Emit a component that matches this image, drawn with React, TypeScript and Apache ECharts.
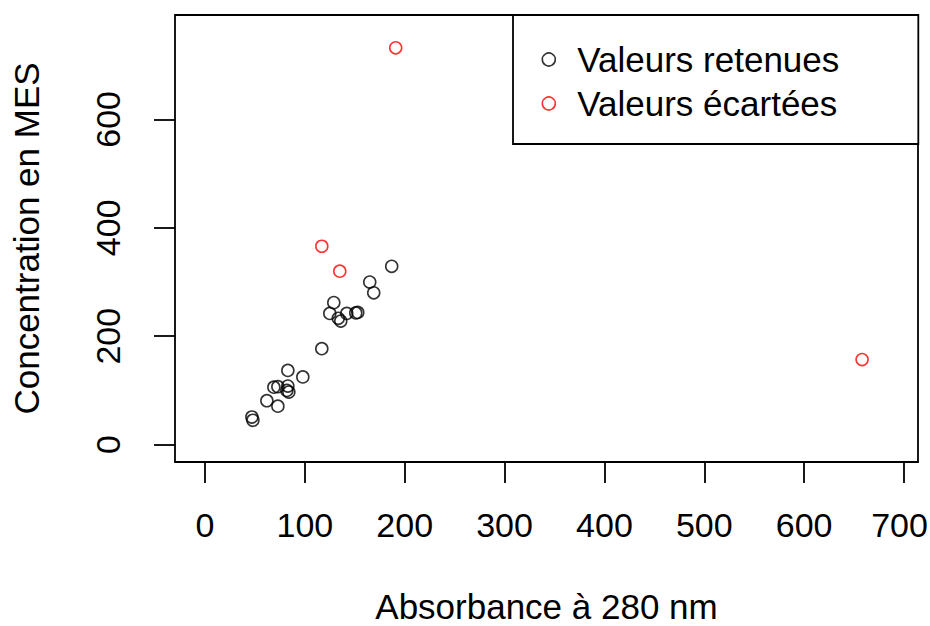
import React, { useEffect, useRef } from "react";
import * as echarts from "echarts";

const retenuesX = [187, 165, 169, 129, 125, 133.5, 136, 142, 151, 153, 117, 83, 98, 69, 73, 83, 82, 84, 62, 73, 47, 48];
const retenuesY = [329, 300, 280, 262, 242, 233, 228, 242, 243, 244, 177, 137, 125, 106, 107, 108, 100, 97, 81, 71, 51, 45];
const ecarteesX = [191, 117, 135, 658];
const ecarteesY = [732, 366, 320, 157];
const xTicks = [0, 100, 200, 300, 400, 500, 600, 700];
const yTicks = [0, 200, 400, 600];
const seriesNames = ["Valeurs retenues", "Valeurs écartées"];
const xTitle = "Absorbance à 280 nm";
const yTitle = "Concentration en MES";

const FONT = "'Liberation Sans', Arial, sans-serif";
const FS = 35;
const FT = 34;

export default function App() {
  const ref = useRef<HTMLDivElement>(null);
  useEffect(() => {
    if (!ref.current) return;
    const chart = echarts.init(ref.current, null, { renderer: "svg" });
    const pairs = (xs: number[], ys: number[]) => xs.map((x, i) => [x, ys[i]]);
    const mkStyle = (c: string) => ({ color: "rgba(0,0,0,0)", borderColor: c, borderWidth: 1.6 });
    const lastTick = xTicks[xTicks.length - 1];
    chart.setOption({
      animation: false,
      backgroundColor: "#fff",
      textStyle: { fontFamily: FONT },
      grid: {
        left: 175,
        top: 15,
        right: 12,
        bottom: 164,
        show: true,
        borderColor: "#000",
        borderWidth: 1.8,
        backgroundColor: "transparent",
        outerBoundsMode: "none",
        containLabel: false,
      },
      xAxis: {
        type: "value",
        min: -30,
        max: 714,
        name: xTitle,
        nameLocation: "middle",
        nameGap: 129,
        nameTextStyle: { fontSize: FS, color: "#000", fontFamily: FONT, lineHeight: 30 },
        axisLine: { show: false, onZero: false },
        axisTick: { show: true, customValues: xTicks, length: 21, lineStyle: { color: "#000", width: 1.8 } },
        axisLabel: {
          customValues: xTicks,
          fontSize: FT,
          color: "#000",
          margin: 46,
          fontFamily: FONT,
          formatter: (v: number) => (v === lastTick ? "{last|" + v + "}" : String(v)),
          rich: { last: { fontSize: FT, color: "#000", fontFamily: FONT, padding: [0, 9, 0, 0] } },
        },
        splitLine: { show: false },
      },
      yAxis: {
        type: "value",
        min: -32,
        max: 792.6,
        name: yTitle,
        nameLocation: "middle",
        nameGap: 131,
        nameRotate: 90,
        nameTextStyle: { fontSize: FS, color: "#000", fontFamily: FONT },
        axisLine: { show: false, onZero: false },
        axisTick: { show: true, customValues: yTicks, length: 21, lineStyle: { color: "#000", width: 1.8 } },
        axisLabel: { customValues: yTicks, fontSize: FT, color: "#000", margin: 50, rotate: 90, fontFamily: FONT },
        splitLine: { show: false },
      },
      legend: {
        left: 513,
        top: 15,
        orient: "vertical",
        icon: "circle",
        itemWidth: 13,
        itemHeight: 13,
        itemGap: 9,
        padding: [27, 79, 23, 28.5],
        borderColor: "#000",
        borderWidth: 1.8,
        backgroundColor: "#fff",
        textStyle: { fontSize: FS, color: "#000", fontFamily: FONT, lineHeight: 34, padding: [0, 0, 0, 17] },
        data: [
          { name: seriesNames[0], itemStyle: mkStyle("#000") },
          { name: seriesNames[1], itemStyle: mkStyle("#ff0000") },
        ],
      },
      series: [
        {
          name: seriesNames[0],
          type: "scatter",
          symbol: "circle",
          symbolSize: 12,
          itemStyle: mkStyle("#000"),
          data: pairs(retenuesX, retenuesY),
        },
        {
          name: seriesNames[1],
          type: "scatter",
          symbol: "circle",
          symbolSize: 12,
          itemStyle: mkStyle("#ff0000"),
          data: pairs(ecarteesX, ecarteesY),
        },
      ],
    });
    return () => chart.dispose();
  }, []);
  return (
    <div
      ref={ref}
      style={{ position: "fixed", left: 0, top: 0, width: 930, height: 626 }}
    />
  );
}
